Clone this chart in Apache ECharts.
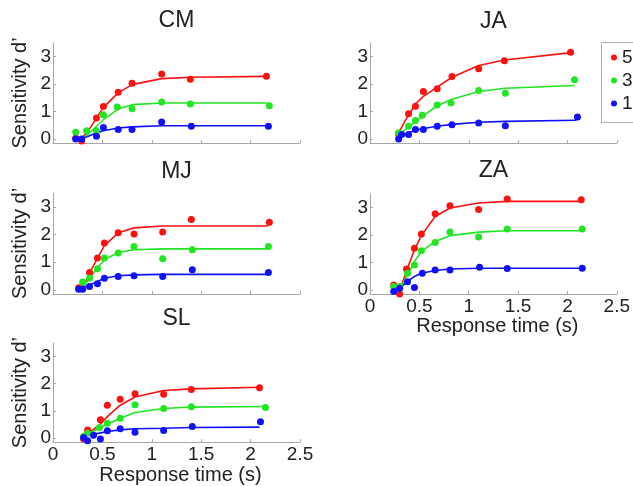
<!DOCTYPE html>
<html>
<head>
<meta charset="utf-8">
<script src="https://cdn.jsdelivr.net/npm/echarts@6/dist/echarts.min.js"></script>
<style>html,body{margin:0;padding:0;background:#fff}#c{width:633px;height:486px}</style>
</head>
<body>
<div id="c"></div>
<script>
// ---- data ----
const panelNames = ['CM', 'JA', 'MJ', 'ZA', 'SL'];
const legendLabels = ['5', '3', '1'];
const xTicks = [0, 0.5, 1, 1.5, 2, 2.5];
const yTicks = [0, 1, 2, 3];
const yAxisTitle = 'Sensitivity d\u2019';
const xAxisTitle = 'Response time (s)';

// CM
const CM_red_pts = [[0.23,0.03],[0.29,-0.08],[0.44,0.76],[0.51,1.18],[0.66,1.70],[0.80,2.03],[1.10,2.37],[1.39,2.18],[2.16,2.29]];
const CM_green_pts = [[0.23,0.24],[0.34,0.30],[0.44,0.30],[0.51,0.88],[0.65,1.16],[0.80,1.10],[1.10,1.35],[1.39,1.27],[2.19,1.21]];
const CM_blue_pts = [[0.23,0.00],[0.29,0.00],[0.44,0.10],[0.51,0.42],[0.66,0.34],[0.80,0.34],[1.10,0.62],[1.40,0.46],[2.18,0.46]];
const CM_red_fit = [[0.23,0.03],[0.29,0.05],[0.34,0.20],[0.44,0.76],[0.51,1.15],[0.66,1.68],[0.80,1.98],[1.10,2.20],[1.39,2.25],[2.17,2.28]];
const CM_green_fit = [[0.23,0.03],[0.29,0.05],[0.34,0.12],[0.44,0.46],[0.51,0.70],[0.66,1.09],[0.80,1.25],[1.10,1.31],[1.39,1.31],[2.17,1.31]];
const CM_blue_fit = [[0.23,0.00],[0.29,0.02],[0.34,0.07],[0.44,0.22],[0.51,0.30],[0.66,0.40],[0.80,0.44],[1.10,0.48],[1.39,0.48],[2.17,0.48]];

// JA
const JA_red_pts = [[0.29,0.16],[0.39,0.92],[0.46,1.19],[0.54,1.73],[0.68,1.83],[0.83,2.28],[1.10,2.56],[1.36,2.85],[2.03,3.16]];
const JA_green_pts = [[0.29,0.22],[0.39,0.46],[0.46,0.67],[0.53,0.86],[0.68,1.24],[0.82,1.31],[1.10,1.77],[1.37,1.67],[2.07,2.16]];
const JA_blue_pts = [[0.29,0.00],[0.32,0.16],[0.39,0.16],[0.46,0.34],[0.54,0.34],[0.68,0.46],[0.83,0.52],[1.10,0.58],[1.37,0.48],[2.10,0.80]];
const JA_red_fit = [[0.27,0.10],[0.39,0.88],[0.47,1.31],[0.54,1.55],[0.68,1.89],[0.83,2.25],[1.10,2.68],[1.36,2.88],[2.04,3.15]];
const JA_green_fit = [[0.27,0.10],[0.39,0.42],[0.46,0.64],[0.53,0.82],[0.68,1.21],[0.83,1.45],[1.10,1.73],[1.37,1.85],[2.07,1.95]];
const JA_blue_fit = [[0.27,0.02],[0.39,0.22],[0.46,0.32],[0.54,0.38],[0.68,0.46],[0.83,0.53],[1.10,0.61],[1.37,0.64],[2.09,0.68]];

// MJ
const MJ_red_pts = [[0.26,0.08],[0.37,0.63],[0.45,1.15],[0.52,1.69],[0.66,2.06],[0.82,2.02],[1.11,2.09],[1.40,2.54],[2.19,2.44]];
const MJ_green_pts = [[0.30,0.28],[0.37,0.42],[0.45,0.76],[0.52,1.15],[0.66,1.33],[0.82,1.57],[1.11,1.12],[1.41,1.45],[2.18,1.57]];
const MJ_blue_pts = [[0.26,0.02],[0.30,0.02],[0.37,0.12],[0.45,0.22],[0.52,0.42],[0.66,0.48],[0.82,0.51],[1.11,0.48],[1.41,0.73],[2.18,0.63]];
const MJ_red_fit = [[0.26,0.08],[0.32,0.18],[0.37,0.60],[0.45,1.15],[0.52,1.60],[0.66,2.06],[0.82,2.24],[1.11,2.31],[1.40,2.31],[2.18,2.31]];
const MJ_green_fit = [[0.26,0.06],[0.32,0.18],[0.37,0.42],[0.45,0.79],[0.52,1.09],[0.66,1.35],[0.82,1.45],[1.11,1.48],[1.40,1.48],[2.18,1.48]];
const MJ_blue_fit = [[0.26,0.02],[0.32,0.10],[0.37,0.18],[0.45,0.30],[0.52,0.42],[0.66,0.51],[0.82,0.54],[1.11,0.56],[1.40,0.56],[2.18,0.56]];

// ZA
const ZA_red_pts = [[0.24,0.18],[0.30,-0.15],[0.37,0.76],[0.45,1.52],[0.52,2.04],[0.66,2.78],[0.81,3.07],[1.10,2.93],[1.39,3.32],[2.14,3.29]];
const ZA_green_pts = [[0.24,0.12],[0.30,0.12],[0.38,0.61],[0.45,0.91],[0.52,1.43],[0.66,1.73],[0.81,2.11],[1.10,1.93],[1.39,2.22],[2.15,2.22]];
const ZA_blue_pts = [[0.24,-0.06],[0.30,0.06],[0.38,0.30],[0.45,0.09],[0.53,0.61],[0.66,0.73],[0.81,0.73],[1.11,0.83],[1.39,0.78],[2.15,0.79]];
const ZA_red_fit = [[0.24,0.02],[0.32,0.18],[0.38,0.79],[0.45,1.46],[0.52,1.98],[0.66,2.68],[0.81,2.99],[1.10,3.17],[1.39,3.23],[2.14,3.23]];
const ZA_green_fit = [[0.24,0.02],[0.32,0.15],[0.38,0.55],[0.45,1.04],[0.52,1.40],[0.66,1.77],[0.81,1.98],[1.10,2.11],[1.39,2.16],[2.15,2.16]];
const ZA_blue_fit = [[0.24,0.00],[0.32,0.12],[0.38,0.30],[0.45,0.49],[0.52,0.61],[0.66,0.71],[0.81,0.76],[1.10,0.79],[1.39,0.79],[2.15,0.79]];

// SL
const SL_red_pts = [[0.31,-0.04],[0.35,0.30],[0.48,0.67],[0.55,1.21],[0.68,1.43],[0.83,1.63],[1.12,1.61],[1.40,1.79],[2.09,1.85]];
const SL_green_pts = [[0.31,0.06],[0.35,0.18],[0.47,0.39],[0.55,0.54],[0.68,0.73],[0.83,1.23],[1.12,1.09],[1.40,1.15],[2.15,1.12]];
const SL_blue_pts = [[0.31,0.02],[0.35,-0.10],[0.41,0.10],[0.48,-0.04],[0.55,0.27],[0.68,0.34],[0.83,0.21],[1.12,0.28],[1.41,0.42],[2.10,0.60]];
const SL_red_fit = [[0.31,0.00],[0.35,0.15],[0.47,0.48],[0.55,0.79],[0.68,1.21],[0.83,1.51],[1.12,1.75],[1.40,1.81],[2.09,1.87]];
const SL_green_fit = [[0.31,0.02],[0.35,0.15],[0.47,0.36],[0.55,0.51],[0.68,0.73],[0.83,0.94],[1.12,1.09],[1.40,1.14],[2.15,1.16]];
const SL_blue_fit = [[0.31,0.02],[0.35,0.12],[0.47,0.18],[0.55,0.24],[0.68,0.30],[0.83,0.34],[1.12,0.36],[1.40,0.39],[2.09,0.40]];

// ---- build chart ----
const panelData = {
  CM: {pts: [CM_red_pts, CM_green_pts, CM_blue_pts], fit: [CM_red_fit, CM_green_fit, CM_blue_fit]},
  JA: {pts: [JA_red_pts, JA_green_pts, JA_blue_pts], fit: [JA_red_fit, JA_green_fit, JA_blue_fit]},
  MJ: {pts: [MJ_red_pts, MJ_green_pts, MJ_blue_pts], fit: [MJ_red_fit, MJ_green_fit, MJ_blue_fit]},
  ZA: {pts: [ZA_red_pts, ZA_green_pts, ZA_blue_pts], fit: [ZA_red_fit, ZA_green_fit, ZA_blue_fit]},
  SL: {pts: [SL_red_pts, SL_green_pts, SL_blue_pts], fit: [SL_red_fit, SL_green_fit, SL_blue_fit]}
};
const colors = ['#ff1010', '#22e622', '#1010ff'];
const FONT = '"Liberation Sans", Arial, sans-serif';
const layout = {
  CM: {left: 53, top: 43, h: 100, yName: true, xLabels: false, titleY: 21},
  JA: {left: 370, top: 43, h: 100, yName: false, xLabels: false, titleY: 22},
  MJ: {left: 53, top: 193, h: 101, yName: true, xLabels: false, titleY: 172},
  ZA: {left: 370, top: 194, h: 100, yName: false, xLabels: true, titleY: 171},
  SL: {left: 53, top: 343, h: 101, yName: true, xLabels: true, titleY: 319}
};
const W = 247;
const axisCol = '#a8a8a8';
const txtCol = '#222222';

const grid = [], xAxis = [], yAxis = [], series = [], graphic = [];
panelNames.forEach((p, i) => {
  const L = layout[p];
  grid.push({left: L.left, top: L.top, width: W, height: L.h, containLabel: false});
  xAxis.push({
    type: 'value', gridIndex: i, min: xTicks[0], max: xTicks[xTicks.length - 1], interval: 0.5,
    splitLine: {show: false},
    axisLine: {show: true, onZero: false, lineStyle: {color: axisCol, width: 1}},
    axisTick: {show: true, inside: true, length: 3, lineStyle: {color: axisCol}},
    axisLabel: {show: L.xLabels, color: txtCol, fontSize: 19, fontFamily: FONT, margin: 3,
      formatter: v => String(v)},
    name: L.xLabels ? xAxisTitle : '',
    nameLocation: 'middle', nameGap: 14,
    nameTextStyle: {color: txtCol, fontSize: 20, fontFamily: FONT, padding: [0, 0, 0, 8]}
  });
  yAxis.push({
    type: 'value', gridIndex: i, min: -0.15, max: 3.5,
    splitLine: {show: false},
    axisLine: {show: true, onZero: false, lineStyle: {color: axisCol, width: 1}},
    axisTick: {show: true, inside: true, length: 3, customValues: yTicks, lineStyle: {color: axisCol}},
    axisLabel: {show: true, color: txtCol, fontSize: 19, fontFamily: FONT, margin: 2,
      customValues: yTicks, formatter: v => String(v)},
    name: L.yName ? yAxisTitle : '',
    nameLocation: 'middle', nameGap: 23, nameRotate: 90,
    nameTextStyle: {color: txtCol, fontSize: 20, fontFamily: FONT}
  });
  graphic.push({
    type: 'text', x: L.left + W / 2, y: L.titleY,
    style: {text: p, fill: txtCol, font: '23px ' + FONT, align: 'center', verticalAlign: 'middle',
      textAlign: 'center', textVerticalAlign: 'middle'}
  });
  const d = panelData[p];
  [0, 1, 2].forEach(c => {
    series.push({
      type: 'line', name: legendLabels[c] + ' fit', xAxisIndex: i, yAxisIndex: i,
      data: d.fit[c], showSymbol: false, symbol: 'none', smooth: false,
      lineStyle: {color: colors[c], width: 1.6}, z: 2 + c, clip: false, silent: true
    });
  });
  [0, 1, 2].forEach(c => {
    series.push({
      type: 'scatter', name: legendLabels[c], xAxisIndex: i, yAxisIndex: i,
      data: d.pts[c], symbol: 'circle', symbolSize: 7,
      itemStyle: {color: colors[c], opacity: 1}, z: 5 + c, clip: false, silent: true
    });
  });
});

graphic.push({
  type: 'rect', shape: {x: 601.5, y: 42.5, width: 100, height: 80},
  style: {fill: 'none', stroke: '#b0b0b0', lineWidth: 1}, z: 0
});

const chart = echarts.init(document.getElementById('c'), null, {renderer: 'canvas'});
chart.setOption({
  animation: false,
  backgroundColor: '#ffffff',
  grid, xAxis, yAxis, series, graphic,
  legend: {
    data: legendLabels.map(n => ({name: n, icon: 'circle'})),
    orient: 'vertical', left: 611, top: 48, padding: 0,
    itemWidth: 6, itemHeight: 6, itemGap: 4,
    textStyle: {color: txtCol, fontSize: 19, fontFamily: FONT, lineHeight: 19},
    selectedMode: false
  }
});
</script>
</body>
</html>
